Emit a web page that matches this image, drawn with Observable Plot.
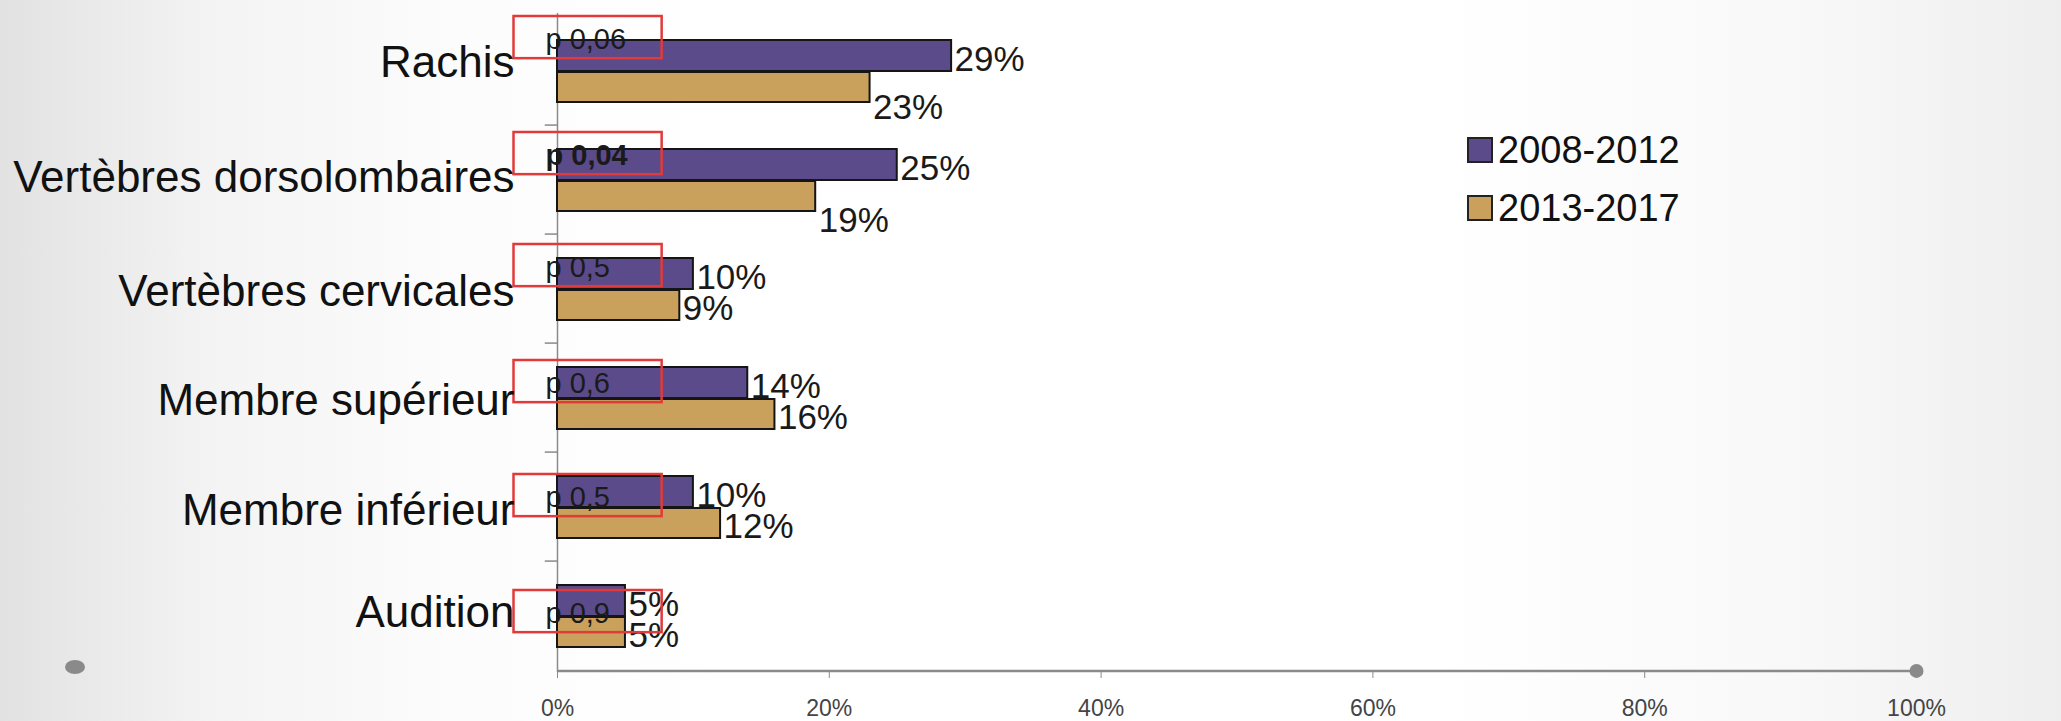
<!DOCTYPE html>
<html>
<head>
<meta charset="utf-8">
<script src="https://cdn.jsdelivr.net/npm/d3@7"></script>
<script src="https://cdn.jsdelivr.net/npm/@observablehq/plot@0.6"></script>
<style>
  html, body { margin: 0; padding: 0; overflow: hidden; }
  body {
    width: 2061px; height: 721px; position: relative;
    background: linear-gradient(to right, #e2e2e2 0%, #f3f3f3 10%, #fcfcfc 22%, #ffffff 35%, #ffffff 70%, #f8f8f8 88%, #eeeeee 100%);
    font-family: "Liberation Sans", Arial, sans-serif;
  }
  #chart { position: absolute; left: 0; top: 0; }
  #legend { position: absolute; left: 1467px; top: 121px; font-size: 38px; color: #111; }
  #legend .item { display: flex; align-items: center; height: 58px; }
  #legend .sw { width: 22px; height: 22px; border: 2px solid #222; margin-right: 5px; }
  #dotleft { position: absolute; left: 65px; top: 660px; width: 20px; height: 14px; border-radius: 50%; background: #8a8a8a; }
</style>
</head>
<body>
<div id="dotleft"></div>
<div id="chart"></div>
<div id="legend"></div>
<script>
const categories = ["Rachis", "Vertèbres dorsolombaires", "Vertèbres cervicales", "Membre supérieur", "Membre inférieur", "Audition"];
const seriesNames = ["2008-2012", "2013-2017"];
const values2008 = [29, 25, 10, 14, 10, 5];
const values2013 = [23, 19, 9, 16, 12, 5];
const pLabels = ["p 0,06", "p 0,04", "p 0,5", "p 0,6", "p 0,5", "p 0,9"];
const pBold = [false, true, false, false, false, false];
const xTicks = [0, 20, 40, 60, 80, 100];

const colors = ["#5b4b8a", "#c9a05c"];

// layout tweaks (pixels, relative to each category band)
const boxTop = [0, 7, 10, 17, 22, 29];
const orangeNudge = [17, 21, 0, 0, 0, 0];
const catNudge = [-8, -2, 3, 3, 4, -3];
const BAND = (721 - 13 - 49) / 6;

const rows2008 = categories.map((c, i) => ({cat: c, value: values2008[i], i}));
const rows2013 = categories.map((c, i) => ({cat: c, value: values2013[i], i}));

const marks = [
  Plot.ruleX([0], {stroke: "#8a8a8a", strokeWidth: 1.5}),
  Plot.ruleY(categories.slice(1), {y: d => d, dy: -BAND / 2, x1: -0.9, x2: 0, stroke: "#8a8a8a", strokeWidth: 1.5}),
  Plot.barX(rows2008, {x: "value", y: "cat", fill: colors[0], stroke: "#151515", strokeWidth: 2, insetTop: 24, insetBottom: 54}),
  Plot.barX(rows2013, {x: "value", y: "cat", fill: colors[1], stroke: "#151515", strokeWidth: 2, insetTop: 56, insetBottom: 23}),
  Plot.ruleY([categories[categories.length - 1]], {y: d => d, dy: BAND / 2, x1: 0, x2: 100, stroke: "#8a8a8a", strokeWidth: 2.5}),
  Plot.dot([100], {x: d => d, y: () => categories[categories.length - 1], dy: BAND / 2, r: 7, fill: "#8a8a8a", stroke: "none"}),
  Plot.text(rows2008, {x: "value", y: "cat", text: d => d.value + "%", dx: 3, dy: -11, textAnchor: "start", fontSize: 35, fill: "#1a1a1a"}),
];
rows2013.forEach((d, k) => {
  marks.push(Plot.text([d], {x: "value", y: "cat", text: d => d.value + "%", dx: 3, dy: 20 + orangeNudge[k], textAnchor: "start", fontSize: 35, fill: "#1a1a1a"}));
});
categories.forEach((c, k) => {
  const top = boxTop[k];
  marks.push(Plot.barX([c], {x1: -3.2, x2: 7.7, y: d => d, insetTop: top, insetBottom: BAND - top - 43, fill: "none", stroke: "#e23a3a", strokeWidth: 2.5}));
  marks.push(Plot.text([c], {x: 0, y: d => d, text: () => pLabels[k], dx: -12, dy: top + 23.5 - BAND / 2, textAnchor: "start", fontSize: 29, fontWeight: pBold[k] ? "bold" : "normal", fill: "#1a1a1a"}));
  marks.push(Plot.text([c], {x: 0, y: d => d, text: d => d, dx: -43, dy: catNudge[k], textAnchor: "end", fontSize: 44, fill: "#111"}));
});
marks.push(Plot.axisX({ticks: xTicks, tickFormat: d => d + "%", tickSize: 6, tickPadding: 21, fontSize: 23, fill: "#444", stroke: "#8a8a8a", label: null}));

const chart = Plot.plot({
  width: 2061,
  height: 721,
  marginLeft: 557,
  marginRight: 145,
  marginTop: 13,
  marginBottom: 49,
  x: {domain: [0, 100]},
  y: {domain: categories, padding: 0, axis: null},
  style: {fontFamily: "'Liberation Sans', Arial, sans-serif", background: "transparent", overflow: "visible"},
  marks
});
document.getElementById("chart").append(chart);

const legend = d3.select("#legend");
seriesNames.forEach((s, i) => {
  const item = legend.append("div").attr("class", "item");
  item.append("div").attr("class", "sw").style("background", colors[i]);
  item.append("span").text(s);
});
</script>
</body>
</html>
